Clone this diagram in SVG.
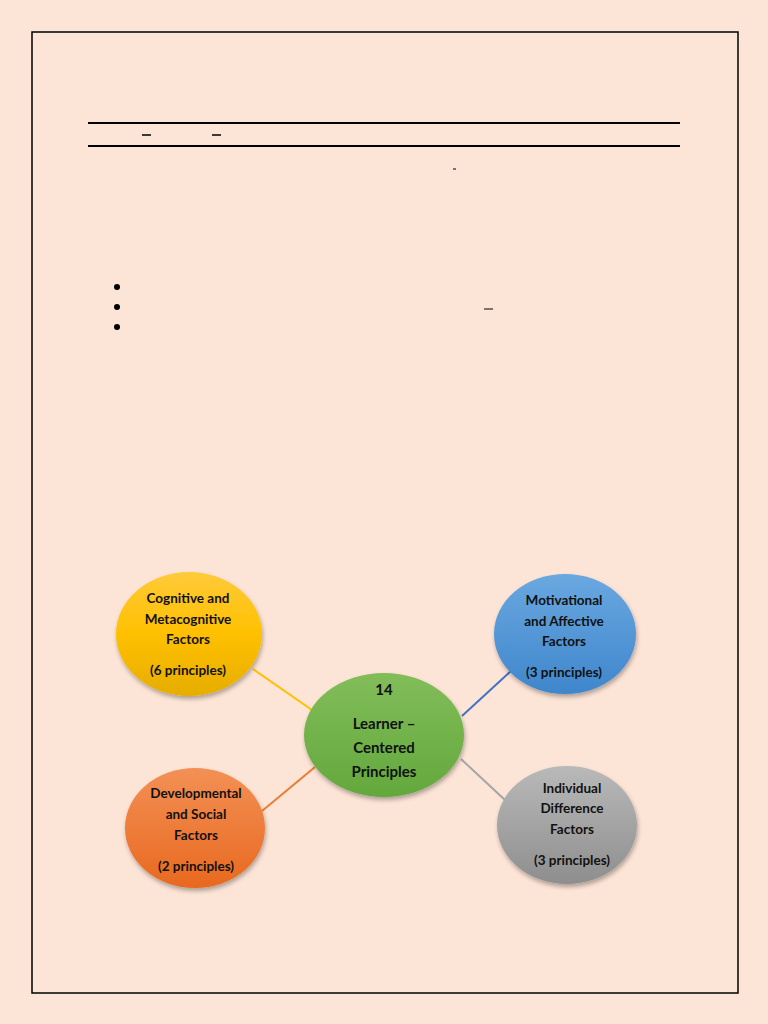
<svg xmlns="http://www.w3.org/2000/svg" width="768" height="1024" viewBox="0 0 768 1024">
<defs>
<style>
.t{font-family:Lato,"Open Sans",sans-serif;font-weight:bold;font-size:13.5px;fill:#111;text-anchor:middle}
.c{font-size:15px}
.d{font-family:"Liberation Sans",sans-serif;font-size:14px;fill:#000}
</style>
<linearGradient id="gy" x1="0" y1="0" x2="0" y2="1"><stop offset="0" stop-color="#ffca3a"/><stop offset="0.5" stop-color="#ffc000"/><stop offset="1" stop-color="#e6ad00"/></linearGradient>
<linearGradient id="gb" x1="0" y1="0" x2="0" y2="1"><stop offset="0" stop-color="#6aa8e0"/><stop offset="1" stop-color="#3f86cc"/></linearGradient>
<linearGradient id="gg" x1="0" y1="0" x2="0" y2="1"><stop offset="0" stop-color="#82bd5a"/><stop offset="1" stop-color="#63a83c"/></linearGradient>
<linearGradient id="go" x1="0" y1="0" x2="0" y2="1"><stop offset="0" stop-color="#f39055"/><stop offset="1" stop-color="#e8691f"/></linearGradient>
<linearGradient id="ga" x1="0" y1="0" x2="0" y2="1"><stop offset="0" stop-color="#b9b9b9"/><stop offset="1" stop-color="#8e8e8e"/></linearGradient>
<filter id="sh" x="-20%" y="-20%" width="140%" height="150%"><feDropShadow dx="1" dy="3" stdDeviation="2" flood-color="#000" flood-opacity="0.3"/></filter>
</defs>
<rect width="768" height="1024" fill="#fce4d6"/>
<rect x="32" y="32" width="706" height="961" fill="none" stroke="#000" stroke-width="1.5"/>
<line x1="88" y1="123" x2="680" y2="123" stroke="#000" stroke-width="2"/>
<line x1="88" y1="146" x2="680" y2="146" stroke="#000" stroke-width="2"/>
<line x1="142" y1="135" x2="151" y2="135" stroke="#000" stroke-width="1.5"/>
<line x1="212" y1="135" x2="221" y2="135" stroke="#000" stroke-width="1.5"/>
<line x1="453" y1="169" x2="456" y2="169" stroke="#000" stroke-width="1"/>
<line x1="484" y1="309" x2="493" y2="309" stroke="#000" stroke-width="1"/>
<circle cx="117" cy="287" r="3" fill="#000"/>
<circle cx="117" cy="307" r="3" fill="#000"/>
<circle cx="117" cy="327" r="3" fill="#000"/>
<g id="connectors" stroke-width="2">
<line x1="253" y1="669" x2="312" y2="710" stroke="#ffc000"/>
<line x1="511" y1="671" x2="462" y2="716" stroke="#4472c4"/>
<line x1="262" y1="811" x2="315" y2="767" stroke="#ed7d31"/>
<line x1="461" y1="759" x2="505" y2="800" stroke="#a5a5a5"/>
</g>
<g id="cognitive"><ellipse cx="189" cy="634" rx="73" ry="62" fill="url(#gy)" filter="url(#sh)"/>
<text class="t" x="188" y="603">Cognitive and</text><text class="t" x="188" y="624">Metacognitive</text><text class="t" x="188" y="644">Factors</text><text class="t" x="188" y="675">(6 principles)</text></g>
<g id="motivational"><ellipse cx="565" cy="634" rx="71" ry="60" fill="url(#gb)" filter="url(#sh)"/>
<text class="t" x="564" y="605">Motivational</text><text class="t" x="564" y="626">and Affective</text><text class="t" x="564" y="646">Factors</text><text class="t" x="564" y="677">(3 principles)</text></g>
<g id="center"><ellipse cx="384" cy="735" rx="80" ry="62" fill="url(#gg)" filter="url(#sh)"/>
<text class="t c" x="384" y="695">14</text><text class="t c" x="384" y="729">Learner –</text><text class="t c" x="384" y="753">Centered</text><text class="t c" x="384" y="777">Principles</text></g>
<g id="developmental"><ellipse cx="195" cy="828" rx="70" ry="60" fill="url(#go)" filter="url(#sh)"/>
<text class="t" x="196" y="798">Developmental</text><text class="t" x="196" y="819">and Social</text><text class="t" x="196" y="840">Factors</text><text class="t" x="196" y="871">(2 principles)</text></g>
<g id="individual"><ellipse cx="567" cy="825" rx="70" ry="59" fill="url(#ga)" filter="url(#sh)"/>
<text class="t" x="572" y="793">Individual</text><text class="t" x="572" y="813">Difference</text><text class="t" x="572" y="834">Factors</text><text class="t" x="572" y="865">(3 principles)</text></g>
</svg>
